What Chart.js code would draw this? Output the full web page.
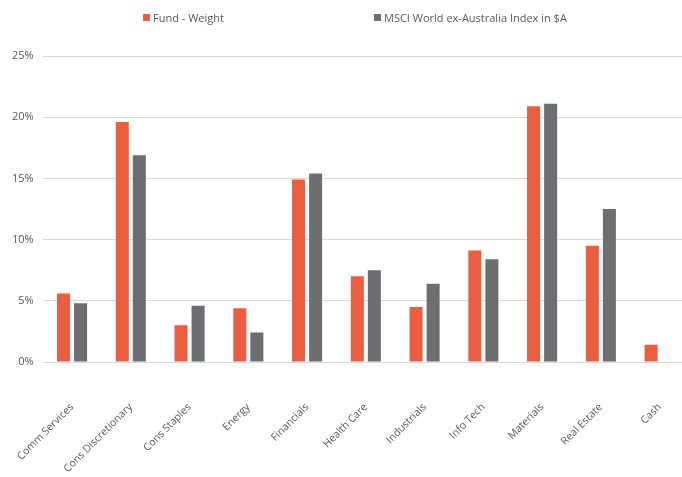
<!DOCTYPE html>
<html>
<head>
<meta charset="utf-8">
<script src="https://cdn.jsdelivr.net/npm/chart.js@4"></script>
<style>
  html, body { margin: 0; padding: 0; background: #fff; overflow: hidden; }
  #wrap { position: relative; width: 682px; height: 477px; overflow: hidden; }
  #legend { position: absolute; top: 10px; left: 143px; font: 11px "Open Sans", sans-serif; color: #595959; display: flex; }
  #legend span.item { display: flex; align-items: center; width: 231px; }
  #legend i { display: inline-block; width: 7px; height: 7px; margin-right: 3px; }
</style>
</head>
<body>
<div id="wrap">
  <canvas id="myChart" width="689" height="477"></canvas>
  <div id="legend"></div>
</div>
<script>
var labels = ["Comm Services", "Cons Discretionary", "Cons Staples", "Energy", "Financials",
              "Health Care", "Industrials", "Info Tech", "Materials", "Real Estate", "Cash"];
var fundWeight = [5.6, 19.6, 3.0, 4.4, 14.9, 7.0, 4.5, 9.1, 20.9, 9.5, 1.4];
var indexWeight = [4.8, 16.9, 4.6, 2.4, 15.4, 7.5, 6.4, 8.4, 21.1, 12.5, 0];
var seriesNames = ["Fund - Weight", "MSCI World ex-Australia Index in $A"];
var colors = ["#E95D40", "#6D6E72"];

var legend = document.getElementById("legend");
seriesNames.forEach(function (name, i) {
    var s = document.createElement("span");
    s.className = "item";
    s.innerHTML = '<i style="background:' + colors[i] + '"></i>' + name;
    legend.appendChild(s);
});

var ctx = document.getElementById("myChart");
var myChart = new Chart(ctx, {
    type: 'bar',
    data: {
        labels: labels,
        datasets: [{
            label: seriesNames[0],
            backgroundColor: colors[0],
            data: fundWeight,
            categoryPercentage: 0.58,
            barPercentage: 0.765
        }, {
            label: seriesNames[1],
            backgroundColor: colors[1],
            data: indexWeight,
            categoryPercentage: 0.58,
            barPercentage: 0.765
        }]
    },
    options: {
        responsive: false,
        animation: false,
        layout: { padding: { left: 3, right: 0, top: 56, bottom: 3 } },
        plugins: {
            legend: { display: false },
            tooltip: { enabled: false }
        },
        scales: {
            x: {
                grid: { display: false },
                border: { display: false },
                ticks: {
                    color: "#595959",
                    font: { family: "Open Sans", size: 10.5 },
                    minRotation: 45,
                    maxRotation: 45,
                    padding: 31
                },
                afterFit: function (scale) {
                    scale.paddingLeft = 0;
                    scale.paddingRight = 0;
                    scale.height = 112;
                }
            },
            y: {
                min: 0,
                max: 25,
                grid: { color: "#d9d9d9", lineWidth: 1, drawTicks: false },
                border: { display: false },
                ticks: {
                    stepSize: 5,
                    color: "#595959",
                    font: { family: "Open Sans", size: 11 },
                    padding: 9,
                    callback: function (v) { return v + "%"; }
                }
            }
        }
    }
});
</script>
</body>
</html>
